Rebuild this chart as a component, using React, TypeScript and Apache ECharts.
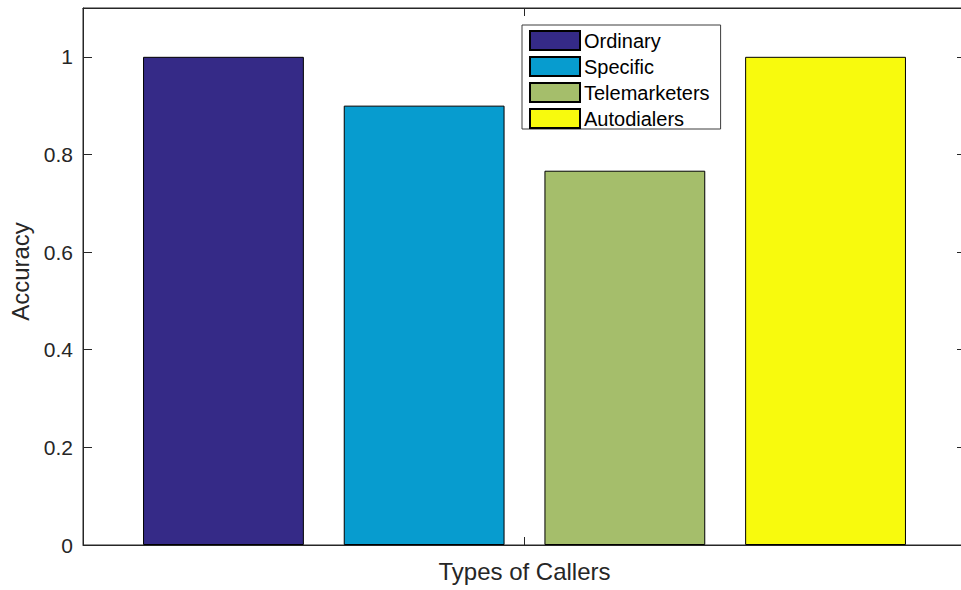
import React, { useEffect, useRef } from "react";
import * as echarts from "echarts";

const categories = [""];
const seriesNames = ["Ordinary", "Specific", "Telemarketers", "Autodialers"];
const seriesValues = [1.0, 0.9, 0.7667, 1.0];
const seriesColors = ["#352a87", "#079ccf", "#a5be6b", "#f8fa0d"];
const yTicks = [0, 0.2, 0.4, 0.6, 0.8, 1];

const FONT = "'Liberation Sans', Arial, Helvetica, sans-serif";
const AX = "#262626";

export default function App() {
  const ref = useRef<HTMLDivElement>(null);
  useEffect(() => {
    document.body.style.margin = "0";
    document.body.style.overflow = "hidden";
    document.documentElement.style.overflow = "hidden";
    const chart = echarts.init(ref.current!, null, { renderer: "svg" });
    const yAxisBase = {
      type: "value",
      min: 0,
      max: 1.1,
      interval: 0.2,
      splitLine: { show: false },
      axisLine: { show: true, onZero: false, lineStyle: { color: AX, width: 1 } },
      axisTick: { show: true, inside: true, length: 9, lineStyle: { color: AX } },
    };
    chart.setOption({
      animation: false,
      backgroundColor: "#ffffff",
      textStyle: { fontFamily: FONT },
      grid: {
        left: 82,
        top: 8,
        width: 884,
        height: 537,
        show: true,
        borderColor: AX,
        borderWidth: 1,
        backgroundColor: "transparent",
      },
      legend: {
        orient: "vertical",
        left: 522,
        top: 25,
        padding: [5, 11, 0, 7],
        itemWidth: 50,
        itemHeight: 19,
        itemGap: 5,
        icon: "rect",
        backgroundColor: "#ffffff",
        borderColor: "#3c3c3c",
        borderWidth: 1,
        borderRadius: 0,
        textStyle: { fontSize: 20, lineHeight: 19, color: "#000", fontFamily: FONT, padding: [0, 0, 0, -1] },
        data: seriesNames,
      },
      xAxis: [
        {
          type: "category",
          position: "bottom",
          data: categories,
          name: "Types of Callers",
          nameLocation: "middle",
          nameGap: 14,
          nameTextStyle: { fontSize: 24, color: AX, fontFamily: FONT },
          axisLine: { show: true, onZero: false, lineStyle: { color: AX, width: 1 } },
          axisTick: { show: true, inside: true, length: 8, alignWithLabel: true, lineStyle: { color: AX } },
          axisLabel: { show: false },
          splitLine: { show: false },
        },
        {
          type: "value",
          position: "top",
          min: 0,
          max: 2,
          interval: 1,
          axisLine: { show: true, onZero: false, lineStyle: { color: AX, width: 1 } },
          axisTick: { show: true, inside: true, length: 8, lineStyle: { color: AX } },
          axisLabel: { show: false },
          splitLine: { show: false },
        },
      ],
      yAxis: [
        {
          ...yAxisBase,
          position: "left",
          name: "Accuracy",
          nameLocation: "middle",
          nameGap: 51,
          nameRotate: 90,
          nameTextStyle: { fontSize: 24, color: AX, fontFamily: FONT, padding: [0, 0, 0, 10] },
          axisLabel: {
            show: true,
            fontSize: 21,
            color: AX,
            margin: 10,
            fontFamily: FONT,
            formatter: (v: number) => {
              const t = yTicks.find((k) => Math.abs(k - v) < 1e-9);
              return t === undefined ? "" : String(t);
            },
          },
        },
        {
          ...yAxisBase,
          position: "right",
          axisLabel: { show: false },
        },
      ],
      series: seriesNames.map((name, i) => ({
        name,
        type: "bar",
        xAxisIndex: 0,
        yAxisIndex: 0,
        data: [seriesValues[i]],
        barGap: "24.8%",
        barCategoryGap: "13.6%",
        itemStyle: { color: seriesColors[i], borderColor: "#000", borderWidth: 1 },
      })),
    });
    return () => chart.dispose();
  }, []);
  return (
    <div
      ref={ref}
      style={{ width: 980, height: 590, position: "absolute", left: 0, top: 0 }}
    />
  );
}
